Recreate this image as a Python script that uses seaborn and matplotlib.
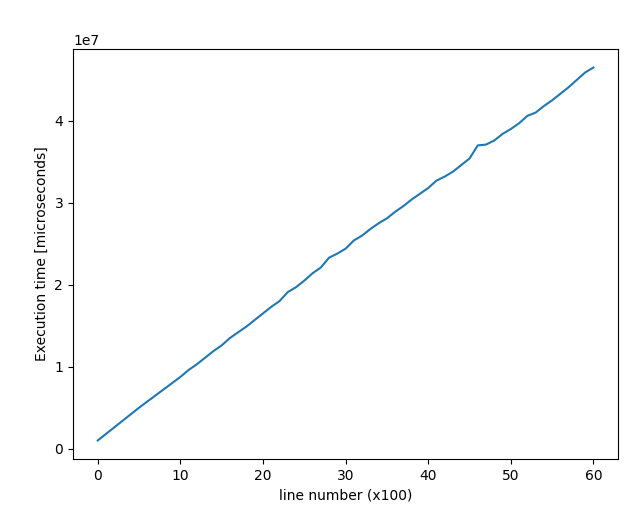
import numpy as np
import pandas as pd
import matplotlib
matplotlib.use("Agg")
import matplotlib.pyplot as plt
import seaborn as sns

# line number in units of 100 lines
line_number = list(range(0, 61))

# execution time in units of 1e7 microseconds
exec_time_1e7 = [
    0.10, 0.18, 0.26, 0.34, 0.42, 0.50, 0.575, 0.65, 0.725, 0.80,
    0.875, 0.96, 1.03, 1.11, 1.19, 1.26, 1.35, 1.42, 1.49, 1.57,
    1.65, 1.73, 1.80, 1.91, 1.97, 2.05, 2.14, 2.21, 2.33, 2.38,
    2.44, 2.54, 2.60, 2.68, 2.75, 2.81, 2.89, 2.96, 3.04, 3.11,
    3.18, 3.27, 3.32, 3.38, 3.46, 3.54, 3.70, 3.71, 3.76, 3.84,
    3.90, 3.97, 4.06, 4.10, 4.18, 4.25, 4.33, 4.41, 4.50, 4.59,
    4.65,
]

df = pd.DataFrame({
    "line": line_number,
    "time": np.array(exec_time_1e7) * 1e7,
})

fig, ax = plt.subplots(figsize=(6.4, 5.09), dpi=100)
sns.lineplot(data=df, x="line", y="time", ax=ax, color="#1f77b4")
ax.set_xlabel("line number (x100)")
ax.set_ylabel("Execution time [microseconds]")

fig.subplots_adjust(left=0.114, right=0.966, top=0.904, bottom=0.098)
fig.savefig("out.png", dpi=100)
